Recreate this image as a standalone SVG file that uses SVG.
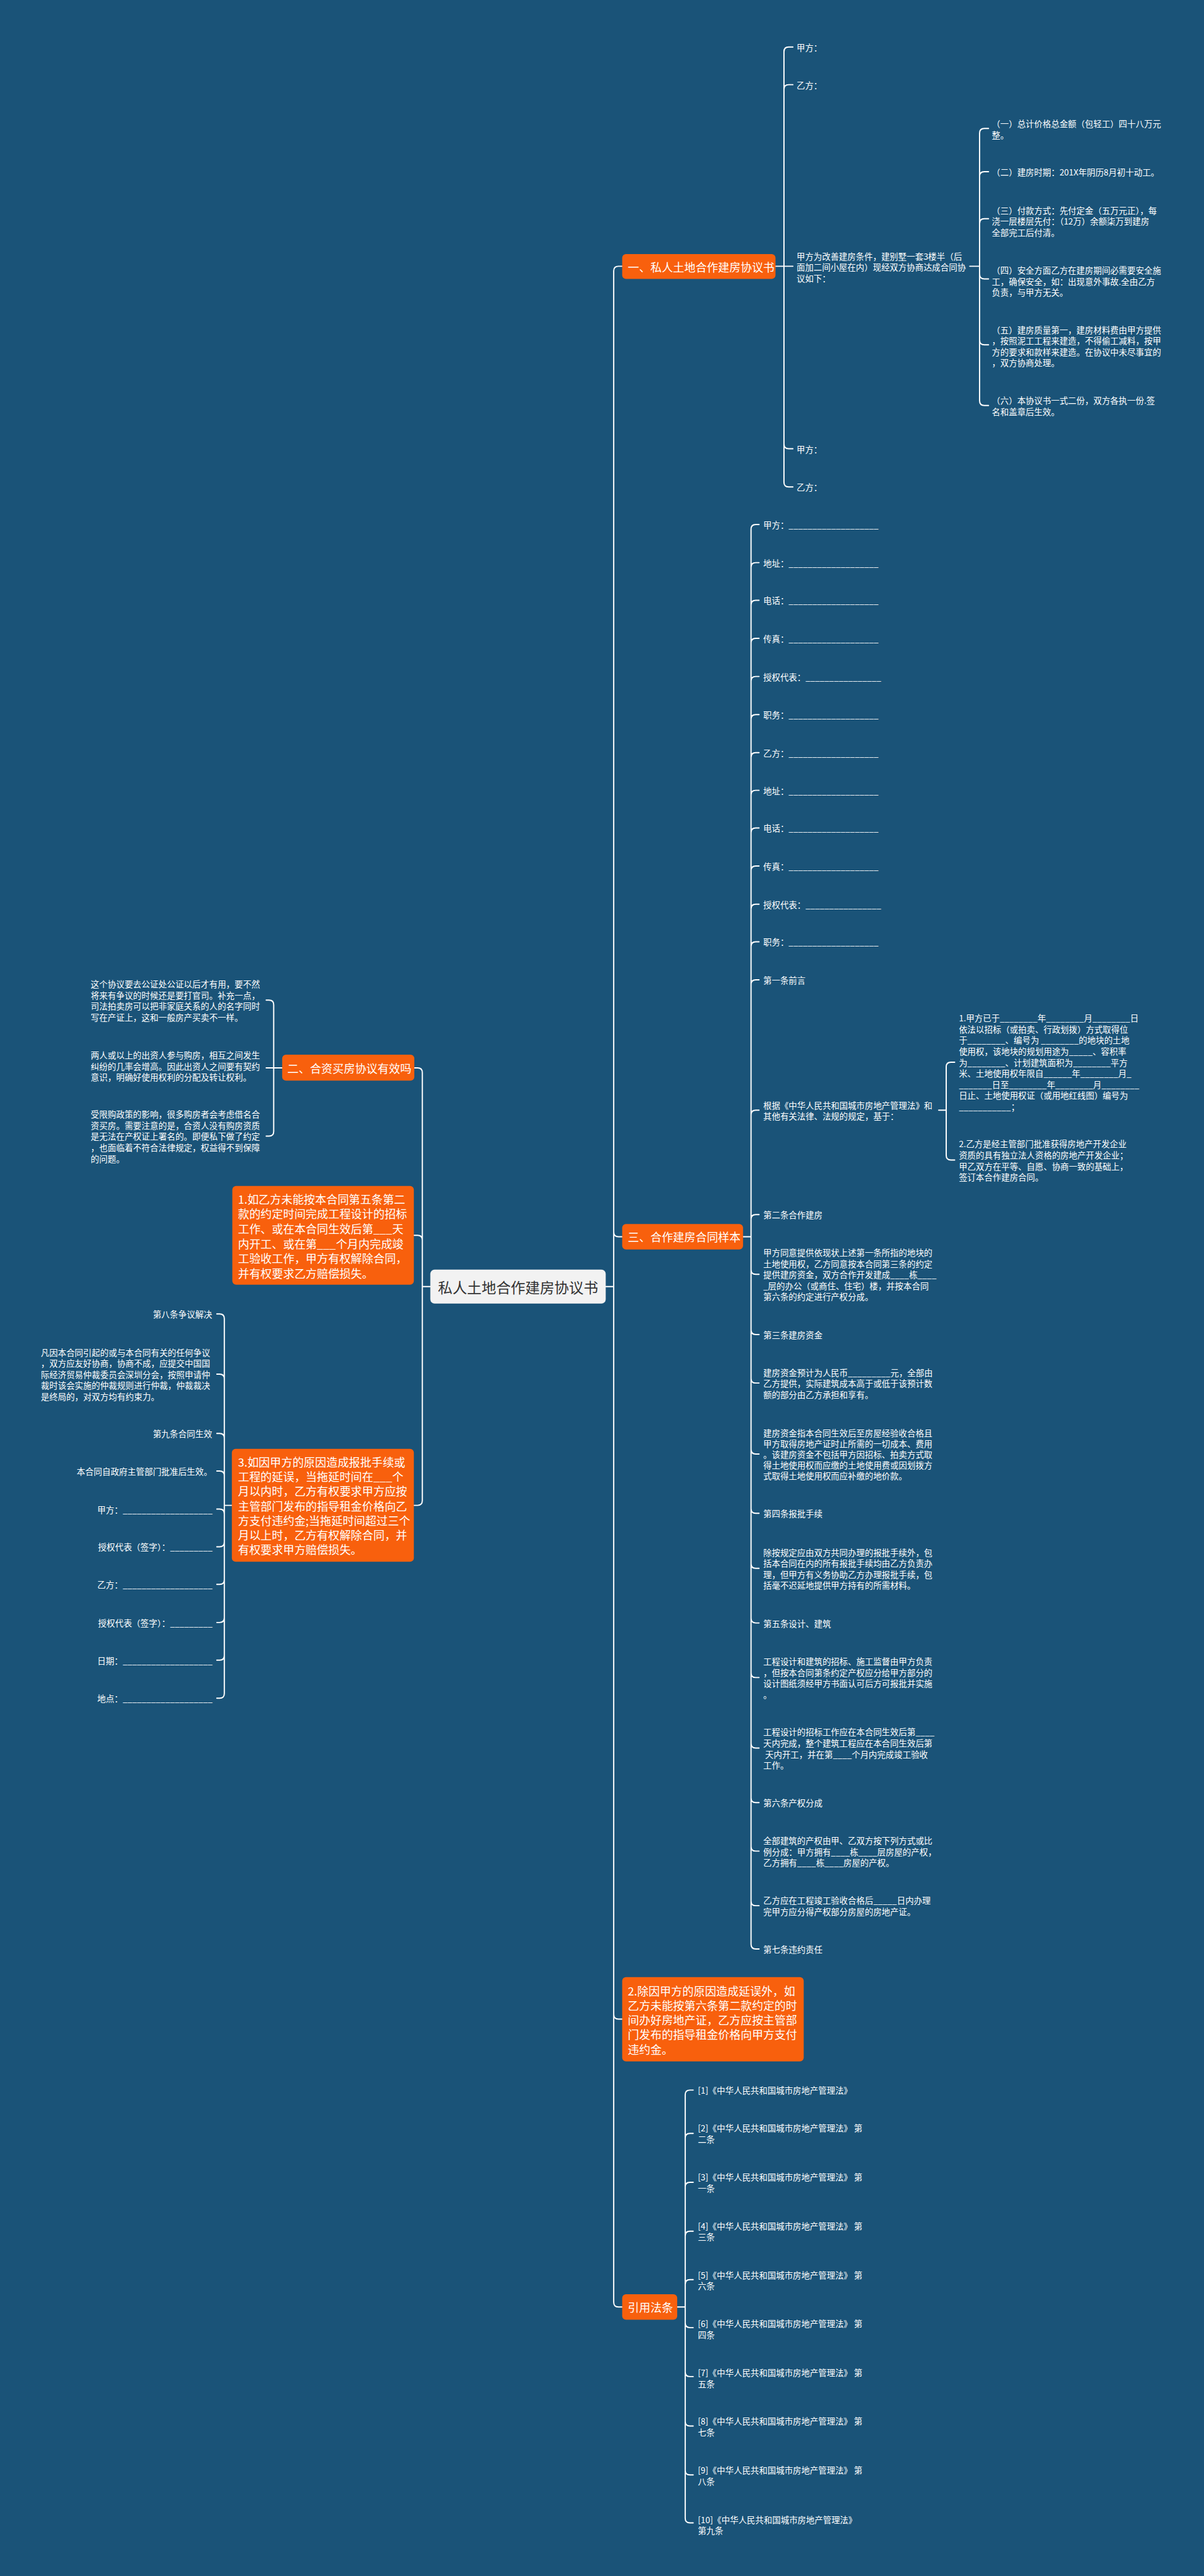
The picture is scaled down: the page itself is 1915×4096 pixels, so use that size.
<svg xmlns="http://www.w3.org/2000/svg" width="1915" height="4096" viewBox="0 0 1915 4096">
<style>
text{font-family:"Noto Sans CJK SC","Noto Sans",sans-serif;dominant-baseline:central}
.t{font-size:18px;fill:#ffffff}
.b{font-size:24px;fill:#ffffff}
.e{text-anchor:end}
.c{font-size:31px;fill:#333333;text-anchor:middle}
.or{fill:#f8600d}
.cn{fill:none;stroke:#ffffff;stroke-width:2.6;stroke-linecap:round;stroke-linejoin:round}
</style>
<rect width="1915" height="4096" fill="#1a5378"/>
<g transform="scale(0.748)">
<g id="connectors" class="cn">
<path d="M1288 2735H1305M1305 2735V576Q1305 566 1315 566H1323M1305 2735V2619Q1305 2629 1315 2629H1323M1305 2735V4282Q1305 4292 1315 4292H1323M1305 2735V4894Q1305 4904 1315 4904H1323"/>
<path d="M915 2735H898M898 2735V2280Q898 2270 888 2270H881M898 2735V2636Q898 2626 888 2626H880M898 2735V3190Q898 3200 888 3200H880"/>
<path d="M1649 566H1667M1667 566V110Q1667 100 1677 100H1686M1667 566V190Q1667 180 1677 180H1686M1667 566H1686M1667 566V944Q1667 954 1677 954H1686M1667 566V1025Q1667 1035 1677 1035H1686"/>
<path d="M2062 566H2083M2083 566V283Q2083 273 2093 273H2102M2083 566V375Q2083 365 2093 365H2102M2083 566V475Q2083 465 2093 465H2102M2083 566V583Q2083 593 2093 593H2102M2083 566V723Q2083 733 2093 733H2102M2083 566V852Q2083 862 2093 862H2102"/>
<path d="M1580 2629H1597M1597 2629V1125Q1597 1115 1607 1115H1614M1597 2629V1206Q1597 1196 1607 1196H1614M1597 2629V1286Q1597 1276 1607 1276H1614M1597 2629V1367Q1597 1357 1607 1357H1614M1597 2629V1448Q1597 1438 1607 1438H1614M1597 2629V1529Q1597 1519 1607 1519H1614M1597 2629V1610Q1597 1600 1607 1600H1614M1597 2629V1690Q1597 1680 1607 1680H1614M1597 2629V1770Q1597 1760 1607 1760H1614M1597 2629V1851Q1597 1841 1607 1841H1614M1597 2629V1932Q1597 1922 1607 1922H1614M1597 2629V2012Q1597 2002 1607 2002H1614M1597 2629V2093Q1597 2083 1607 2083H1614M1597 2629V2370Q1597 2360 1607 2360H1614M1597 2629V2592Q1597 2582 1607 2582H1614M1597 2629V2699Q1597 2709 1607 2709H1614M1597 2629V2827Q1597 2837 1607 2837H1614M1597 2629V2930Q1597 2940 1607 2940H1614M1597 2629V3081Q1597 3091 1607 3091H1614M1597 2629V3207Q1597 3217 1607 3217H1614M1597 2629V3324Q1597 3334 1607 3334H1614M1597 2629V3440Q1597 3450 1607 3450H1614M1597 2629V3556Q1597 3566 1607 3566H1614M1597 2629V3706Q1597 3716 1607 3716H1614M1597 2629V3822Q1597 3832 1607 3832H1614M1597 2629V3925Q1597 3935 1607 3935H1614M1597 2629V4041Q1597 4051 1607 4051H1614M1597 2629V4133Q1597 4143 1607 4143H1614"/>
<path d="M1996 2360H2012M2012 2360V2268Q2012 2258 2022 2258H2030M2012 2360V2456Q2012 2466 2022 2466H2030"/>
<path d="M600 2270H582M582 2270V2136Q582 2126 572 2126H566M582 2270H566M582 2270V2405Q582 2415 572 2415H566"/>
<path d="M493 3200H477M477 3200V2803Q477 2793 467 2793H461M477 3200V2931Q477 2921 467 2921H461M477 3200V3057Q477 3047 467 3047H461M477 3200V3137Q477 3127 467 3127H461M477 3200V3218Q477 3208 467 3208H461M477 3200V3278Q477 3288 467 3288H461M477 3200V3358Q477 3368 467 3368H461M477 3200V3439Q477 3449 467 3449H461M477 3200V3519Q477 3529 467 3529H461M477 3200V3600Q477 3610 467 3610H461"/>
<path d="M1440 4904H1457M1457 4904V4453Q1457 4443 1467 4443H1474M1457 4904V4545Q1457 4535 1467 4535H1474M1457 4904V4649Q1457 4639 1467 4639H1474M1457 4904V4753Q1457 4743 1467 4743H1474M1457 4904V4856Q1457 4846 1467 4846H1474M1457 4904V4938Q1457 4948 1467 4948H1474M1457 4904V5042Q1457 5052 1467 5052H1474M1457 4904V5147Q1457 5157 1467 5157H1474M1457 4904V5251Q1457 5261 1467 5261H1474M1457 4904V5353Q1457 5363 1467 5363H1474"/>
</g>
<g id="root"><rect x="915" y="2699" width="373" height="72" rx="9" fill="#f2f2f2"/><text class="c" x="1101.5" y="2735">私人土地合作建房协议书</text></g>
<g id="b1"><rect class="or" x="1323" y="540" width="326" height="53" rx="8"/><text class="b" x="1335" y="566.5">一、私人土地合作建房协议书</text></g>
<g id="b2"><rect class="or" x="600" y="2242" width="281" height="55" rx="8"/><text class="b" x="611" y="2270">二、合资买房协议有效吗</text></g>
<g id="b3"><rect class="or" x="1323" y="2602" width="257" height="54" rx="8"/><text class="b" x="1335" y="2629">三、合作建房合同样本</text></g>
<g id="b4"><rect class="or" x="1323" y="4877" width="117" height="54" rx="8"/><text class="b" x="1335" y="4904">引用法条</text></g>
<g id="o1"><rect class="or" x="494" y="2521" width="386" height="210" rx="8"/><text class="b"><tspan x="506" y="2548">1.如乙方未能按本合同第五条第二</tspan><tspan x="506" y="2579.5">款的约定时间完成工程设计的招标</tspan><tspan x="506" y="2611">工作、或在本合同生效后第___天</tspan><tspan x="506" y="2642.5">内开工、或在第___个月内完成竣</tspan><tspan x="506" y="2674">工验收工作，甲方有权解除合同，</tspan><tspan x="506" y="2705.5">并有权要求乙方赔偿损失。</tspan></text></g>
<g id="o3"><rect class="or" x="493" y="3080" width="387" height="240" rx="8"/><text class="b"><tspan x="506" y="3107">3.如因甲方的原因造成报批手续或</tspan><tspan x="506" y="3138">工程的延误，当拖延时间在___个</tspan><tspan x="506" y="3169">月以内时，乙方有权要求甲方应按</tspan><tspan x="506" y="3200">主管部门发布的指导租金价格向乙</tspan><tspan x="506" y="3231">方支付违约金;当拖延时间超过三个</tspan><tspan x="506" y="3262">月以上时，乙方有权解除合同，并</tspan><tspan x="506" y="3293">有权要求甲方赔偿损失。</tspan></text></g>
<g id="o2"><rect class="or" x="1323" y="4203" width="386" height="179" rx="8"/><text class="b"><tspan x="1335" y="4231">2.除因甲方的原因造成延误外，如</tspan><tspan x="1335" y="4262">乙方未能按第六条第二款约定的时</tspan><tspan x="1335" y="4293">间办好房地产证，乙方应按主管部</tspan><tspan x="1335" y="4324">门发布的指导租金价格向甲方支付</tspan><tspan x="1335" y="4355">违约金。</tspan></text></g>
<g id="a1"><text class="t" x="1694" y="100">甲方：</text></g>
<g id="a2"><text class="t" x="1694" y="180">乙方：</text></g>
<g id="a3"><text class="t"><tspan x="1694" y="544">甲方为改善建房条件，建别墅一套3楼半（后</tspan><tspan x="1694" y="567.5">面加二间小屋在内）现经双方协商达成合同协</tspan><tspan x="1694" y="591">议如下：</tspan></text></g>
<g id="a4"><text class="t" x="1694" y="954">甲方：</text></g>
<g id="a5"><text class="t" x="1694" y="1035">乙方：</text></g>
<g id="s1"><text class="t"><tspan x="2109" y="262">（一）总计价格总金额（包轻工）四十八万元</tspan><tspan x="2109" y="286">整。</tspan></text></g>
<g id="s2"><text class="t" x="2109" y="365">（二）建房时期：201X年阴历8月初十动工。</text></g>
<g id="s3"><text class="t"><tspan x="2109" y="446">（三）付款方式：先付定金（五万元正），每</tspan><tspan x="2109" y="469.5">浇一层楼层先付：（12万）余额柒万到建房</tspan><tspan x="2109" y="493">全部完工后付清。</tspan></text></g>
<g id="s4"><text class="t"><tspan x="2109" y="574">（四）安全方面乙方在建房期间必需要安全施</tspan><tspan x="2109" y="597">工，确保安全，如：出现意外事故.全由乙方</tspan><tspan x="2109" y="620">负责，与甲方无关。</tspan></text></g>
<g id="s5"><text class="t"><tspan x="2109" y="700">（五）建房质量第一，建房材料费由甲方提供</tspan><tspan x="2109" y="723.5">，按照泥工工程来建造，不得偷工减料，按甲</tspan><tspan x="2109" y="747">方的要求和款样来建造。在协议中未尽事宜的</tspan><tspan x="2109" y="770.5">，双方协商处理。</tspan></text></g>
<g id="s6"><text class="t"><tspan x="2109" y="850">（六）本协议书一式二份，双方各执一份.签</tspan><tspan x="2109" y="874">名和盖章后生效。</tspan></text></g>
<g id="c01"><text class="t" x="1623" y="1115">甲方：___________________</text></g>
<g id="c02"><text class="t" x="1623" y="1196">地址：___________________</text></g>
<g id="c03"><text class="t" x="1623" y="1276">电话：___________________</text></g>
<g id="c04"><text class="t" x="1623" y="1357">传真：___________________</text></g>
<g id="c05"><text class="t" x="1623" y="1438">授权代表：________________</text></g>
<g id="c06"><text class="t" x="1623" y="1519">职务：___________________</text></g>
<g id="c07"><text class="t" x="1623" y="1600">乙方：___________________</text></g>
<g id="c08"><text class="t" x="1623" y="1680">地址：___________________</text></g>
<g id="c09"><text class="t" x="1623" y="1760">电话：___________________</text></g>
<g id="c10"><text class="t" x="1623" y="1841">传真：___________________</text></g>
<g id="c11"><text class="t" x="1623" y="1922">授权代表：________________</text></g>
<g id="c12"><text class="t" x="1623" y="2002">职务：___________________</text></g>
<g id="c13"><text class="t" x="1623" y="2083">第一条前言</text></g>
<g id="c14"><text class="t"><tspan x="1623" y="2348.5">根据《中华人民共和国城市房地产管理法》和</tspan><tspan x="1623" y="2372">其他有关法律、法规的规定，基于：</tspan></text></g>
<g id="c14a"><text class="t"><tspan x="2039" y="2163">1.甲方已于________年________月________日</tspan><tspan x="2039" y="2186.6">依法以招标（或拍卖、行政划拨）方式取得位</tspan><tspan x="2039" y="2210.2">于________、编号为 ________的地块的土地</tspan><tspan x="2039" y="2233.8">使用权，该地块的规划用途为_____、容积率</tspan><tspan x="2039" y="2257.4">为________、计划建筑面积为________平方</tspan><tspan x="2039" y="2281">米、土地使用权年限自______年________月_</tspan><tspan x="2039" y="2304.6">_______日至________年________月________</tspan><tspan x="2039" y="2328.2">日止、土地使用权证（或用地红线图）编号为</tspan><tspan x="2039" y="2351.8">___________；</tspan></text></g>
<g id="c14b"><text class="t"><tspan x="2039" y="2431">2.乙方是经主管部门批准获得房地产开发企业</tspan><tspan x="2039" y="2454.5">资质的具有独立法人资格的房地产开发企业；</tspan><tspan x="2039" y="2478">甲乙双方在平等、自愿、协商一致的基础上，</tspan><tspan x="2039" y="2501.5">签订本合作建房合同。</tspan></text></g>
<g id="c15"><text class="t" x="1623" y="2582">第二条合作建房</text></g>
<g id="c16"><text class="t"><tspan x="1623" y="2662">甲方同意提供依现状上述第一条所指的地块的</tspan><tspan x="1623" y="2685.5">土地使用权，乙方同意按本合同第三条的约定</tspan><tspan x="1623" y="2709">提供建房资金，双方合作开发建成____栋____</tspan><tspan x="1623" y="2732.5">_层的办公（或商住、住宅）楼，并按本合同</tspan><tspan x="1623" y="2756">第六条的约定进行产权分成。</tspan></text></g>
<g id="c17"><text class="t" x="1623" y="2837">第三条建房资金</text></g>
<g id="c18"><text class="t"><tspan x="1623" y="2917">建房资金预计为人民币_________元，全部由</tspan><tspan x="1623" y="2940.5">乙方提供，实际建筑成本高于或低于该预计数</tspan><tspan x="1623" y="2964">额的部分由乙方承担和享有。</tspan></text></g>
<g id="c19"><text class="t"><tspan x="1623" y="3045">建房资金指本合同生效后至房屋经验收合格且</tspan><tspan x="1623" y="3068">甲方取得房地产证时止所需的一切成本、费用</tspan><tspan x="1623" y="3091">。该建房资金不包括甲方因招标、拍卖方式取</tspan><tspan x="1623" y="3114">得土地使用权而应缴的土地使用费或因划拨方</tspan><tspan x="1623" y="3137">式取得土地使用权而应补缴的地价款。</tspan></text></g>
<g id="c20"><text class="t" x="1623" y="3217">第四条报批手续</text></g>
<g id="c21"><text class="t"><tspan x="1623" y="3299">除按规定应由双方共同办理的报批手续外，包</tspan><tspan x="1623" y="3322.5">括本合同在内的所有报批手续均由乙方负责办</tspan><tspan x="1623" y="3346">理，但甲方有义务协助乙方办理报批手续，包</tspan><tspan x="1623" y="3369.5">括毫不迟延地提供甲方持有的所需材料。</tspan></text></g>
<g id="c22"><text class="t" x="1623" y="3450">第五条设计、建筑</text></g>
<g id="c23"><text class="t"><tspan x="1623" y="3531">工程设计和建筑的招标、施工监督由甲方负责</tspan><tspan x="1623" y="3554.5">，但按本合同第条约定产权应分给甲方部分的</tspan><tspan x="1623" y="3578">设计图纸须经甲方书面认可后方可报批并实施</tspan><tspan x="1623" y="3601.5">。</tspan></text></g>
<g id="c24"><text class="t"><tspan x="1623" y="3681">工程设计的招标工作应在本合同生效后第____</tspan><tspan x="1623" y="3704.5">天内完成，整个建筑工程应在本合同生效后第</tspan><tspan x="1623" y="3728"> 天内开工，并在第____个月内完成竣工验收</tspan><tspan x="1623" y="3751.5">工作。</tspan></text></g>
<g id="c25"><text class="t" x="1623" y="3832">第六条产权分成</text></g>
<g id="c26"><text class="t"><tspan x="1623" y="3912">全部建筑的产权由甲、乙双方按下列方式或比</tspan><tspan x="1623" y="3935.5">例分成：甲方拥有____栋____层房屋的产权，</tspan><tspan x="1623" y="3959">乙方拥有____栋____房屋的产权。</tspan></text></g>
<g id="c27"><text class="t"><tspan x="1623" y="4039">乙方应在工程竣工验收合格后_____日内办理</tspan><tspan x="1623" y="4062.5">完甲方应分得产权部分房屋的房地产证。</tspan></text></g>
<g id="c28"><text class="t" x="1623" y="4143">第七条违约责任</text></g>
<g id="l1"><text class="t"><tspan x="193" y="2091">这个协议要去公证处公证以后才有用，要不然</tspan><tspan x="193" y="2114.5">将来有争议的时候还是要打官司。补充一点，</tspan><tspan x="193" y="2138">司法拍卖房可以把非家庭关系的人的名字同时</tspan><tspan x="193" y="2161.5">写在产证上，这和一般房产买卖不一样。</tspan></text></g>
<g id="l2"><text class="t"><tspan x="193" y="2242">两人或以上的出资人参与购房，相互之间发生</tspan><tspan x="193" y="2265.5">纠纷的几率会增高。因此出资人之间要有契约</tspan><tspan x="193" y="2289">意识，明确好使用权利的分配及转让权利。</tspan></text></g>
<g id="l3"><text class="t"><tspan x="193" y="2368">受限购政策的影响，很多购房者会考虑借名合</tspan><tspan x="193" y="2391.5">资买房。需要注意的是，合资人没有购房资质</tspan><tspan x="193" y="2415">是无法在产权证上署名的。即便私下做了约定</tspan><tspan x="193" y="2438.5">，也面临着不符合法律规定，权益得不到保障</tspan><tspan x="193" y="2462">的问题。</tspan></text></g>
<g id="m1"><text class="t e" x="451" y="2793">第八条争议解决</text></g>
<g id="m2"><text class="t"><tspan x="87" y="2874">凡因本合同引起的或与本合同有关的任何争议</tspan><tspan x="87" y="2897.5">，双方应友好协商，协商不成，应提交中国国</tspan><tspan x="87" y="2921">际经济贸易仲裁委员会深圳分会，按照申请仲</tspan><tspan x="87" y="2944.5">裁时该会实施的仲裁规则进行仲裁，仲裁裁决</tspan><tspan x="87" y="2968">是终局的，对双方均有约束力。</tspan></text></g>
<g id="m3"><text class="t e" x="451" y="3047">第九条合同生效</text></g>
<g id="m4"><text class="t e" x="451" y="3127">本合同自政府主管部门批准后生效。</text></g>
<g id="m5"><text class="t e" x="452" y="3208">甲方：___________________</text></g>
<g id="m6"><text class="t e" x="452" y="3288">授权代表（签字）：_________</text></g>
<g id="m7"><text class="t e" x="452" y="3368">乙方：___________________</text></g>
<g id="m8"><text class="t e" x="452" y="3449">授权代表（签字）：_________</text></g>
<g id="m9"><text class="t e" x="452" y="3529">日期：___________________</text></g>
<g id="m10"><text class="t e" x="452" y="3610">地点：___________________</text></g>
<g id="r1"><text class="t" x="1484" y="4443">[1]《中华人民共和国城市房地产管理法》</text></g>
<g id="r2"><text class="t"><tspan x="1484" y="4523">[2]《中华人民共和国城市房地产管理法》 第</tspan><tspan x="1484" y="4546.5">二条</tspan></text></g>
<g id="r3"><text class="t"><tspan x="1484" y="4627">[3]《中华人民共和国城市房地产管理法》 第</tspan><tspan x="1484" y="4650.5">一条</tspan></text></g>
<g id="r4"><text class="t"><tspan x="1484" y="4731">[4]《中华人民共和国城市房地产管理法》 第</tspan><tspan x="1484" y="4754.5">三条</tspan></text></g>
<g id="r5"><text class="t"><tspan x="1484" y="4835">[5]《中华人民共和国城市房地产管理法》 第</tspan><tspan x="1484" y="4858.5">六条</tspan></text></g>
<g id="r6"><text class="t"><tspan x="1484" y="4939">[6]《中华人民共和国城市房地产管理法》 第</tspan><tspan x="1484" y="4962.5">四条</tspan></text></g>
<g id="r7"><text class="t"><tspan x="1484" y="5043">[7]《中华人民共和国城市房地产管理法》 第</tspan><tspan x="1484" y="5066.5">五条</tspan></text></g>
<g id="r8"><text class="t"><tspan x="1484" y="5146">[8]《中华人民共和国城市房地产管理法》 第</tspan><tspan x="1484" y="5169.5">七条</tspan></text></g>
<g id="r9"><text class="t"><tspan x="1484" y="5250">[9]《中华人民共和国城市房地产管理法》 第</tspan><tspan x="1484" y="5273.5">八条</tspan></text></g>
<g id="r10"><text class="t"><tspan x="1484" y="5355">[10]《中华人民共和国城市房地产管理法》</tspan><tspan x="1484" y="5378.5">第九条</tspan></text></g>
</g>
</svg>
